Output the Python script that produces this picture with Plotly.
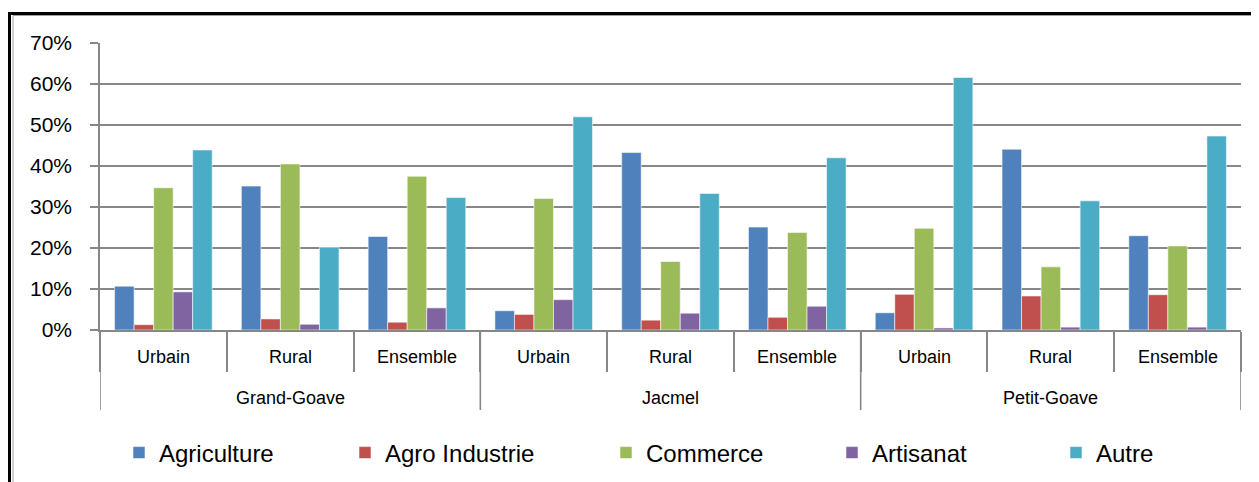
import plotly.graph_objects as go

communes = ["Grand-Goave"] * 3 + ["Jacmel"] * 3 + ["Petit-Goave"] * 3
milieux = ["Urbain", "Rural", "Ensemble"] * 3

series_names = ["Agriculture", "Agro Industrie", "Commerce", "Artisanat", "Autre"]
agriculture = [10.7, 35.1, 22.8, 4.7, 43.3, 25.1, 4.2, 44.1, 23.0]
agro_industrie = [1.3, 2.7, 1.9, 3.8, 2.4, 3.1, 8.7, 8.3, 8.6]
commerce = [34.7, 40.5, 37.5, 32.1, 16.7, 23.8, 24.8, 15.4, 20.5]
artisanat = [9.3, 1.4, 5.4, 7.4, 4.1, 5.8, 0.5, 0.7, 0.7]
autre = [43.9, 20.2, 32.3, 52.0, 33.3, 42.0, 61.6, 31.5, 47.3]

y_ticks = [0, 10, 20, 30, 40, 50, 60, 70]
y_ticktext = [f"{v}%" for v in y_ticks]

colors = ["#4F81BD", "#C0504D", "#9BBB59", "#8064A2", "#4BACC6"]
all_values = [agriculture, agro_industrie, commerce, artisanat, autre]

# unique category keys (commune + milieu)
cat_keys = [f"{c} | {m}" for c, m in zip(communes, milieux)]

# page has an 8px body margin: figure origin sits at screen (8, 8)
OFF = 8
W, H = 1259, 482
ML = 100 - OFF
MR = (W + OFF) - 1241
MT = 43 - OFF
MB = H - (330 - OFF)
PW = W - ML - MR
PH = H - MT - MB

def sx(px):  # screen x -> paper x
    return (px - OFF - ML) / PW

def sy(py):  # screen y -> paper y
    return (H - MB - (py - OFF)) / PH

FONT = "Liberation Sans, Arial, sans-serif"
GRAY = "#878787"

fig = go.Figure()
legend_ids = ["legend", "legend2", "legend3", "legend4", "legend5"]
for name, vals, col, lid in zip(series_names, all_values, colors, legend_ids):
    fig.add_trace(go.Bar(
        x=cat_keys, y=vals, name=name,
        marker=dict(color=col, line=dict(color="rgba(255,255,255,0.55)", width=1)),
        legend=lid,
    ))

square_centers = [139, 365, 626, 852, 1076]
legend_layouts = {}
for lid, cx in zip(legend_ids, square_centers):
    legend_layouts[lid] = dict(
        orientation="h", x=sx(cx - 20), xanchor="left",
        y=sy(453), yanchor="middle",
        font=dict(family=FONT, size=24, color="#000000"),
        bgcolor="rgba(0,0,0,0)", borderwidth=0, tracegroupgap=0,
    )

fig.update_layout(
    width=W, height=H,
    margin=dict(l=ML, r=MR, t=MT, b=MB),
    paper_bgcolor="white", plot_bgcolor="white",
    barmode="group", bargap=0.23, bargroupgap=0,
    showlegend=True,
    font=dict(family=FONT, color="#000000"),
    **legend_layouts,
)

fig.update_yaxes(
    range=[0, 70], tickmode="array", tickvals=y_ticks, ticktext=y_ticktext,
    tickfont=dict(family=FONT, size=21, color="#000000"),
    showgrid=True, gridcolor=GRAY, gridwidth=1.6,
    showline=True, linecolor=GRAY, linewidth=1.6,
    ticks="outside", ticklen=8, tickcolor=GRAY, tickwidth=1.6,
    ticklabelstandoff=14, zeroline=False,
)

n = len(cat_keys)
fig.update_xaxes(
    type="category", range=[-0.5, n - 0.5],
    showticklabels=False,
    showline=True, linecolor=GRAY, linewidth=1.6,
    ticks="outside", ticklen=40, tickcolor=GRAY, tickwidth=1.6,
    tickson="boundaries", showgrid=False,
)

# inner labels (milieu)
for key, m in zip(cat_keys, milieux):
    fig.add_annotation(x=key, y=sy(357), xref="x", yref="paper", text=m,
                       showarrow=False, yanchor="middle",
                       font=dict(family=FONT, size=18, color="#000000"))

# outer labels (commune) and group dividers
groups = []
for i, c in enumerate(communes):
    if not groups or groups[-1][0] != c:
        groups.append([c, i, i])
    else:
        groups[-1][2] = i
bounds = set()
for c, i0, i1 in groups:
    fig.add_annotation(x=(i0 + i1) / 2, y=sy(398), xref="x", yref="paper", text=c,
                       showarrow=False, yanchor="middle",
                       font=dict(family=FONT, size=18, color="#000000"))
    bounds.add(i0 - 0.5)
    bounds.add(i1 + 0.5)
for b in sorted(bounds):
    fig.add_shape(type="line", xref="x", yref="paper", x0=b, x1=b,
                  y0=sy(330), y1=sy(410), line=dict(color=GRAY, width=1.6))

# outer frame of the chart
fig.add_shape(type="rect", xref="paper", yref="paper",
              x0=sx(9.5), x1=sx(1275), y0=sy(500), y1=sy(13.5),
              line=dict(color="#000000", width=3), layer="above")
fig.add_shape(type="rect", xref="paper", yref="paper",
              x0=sx(13), x1=sx(1272), y0=sy(500), y1=sy(15.5),
              line=dict(color="#a0a0a0", width=1), layer="above")

fig.write_html("out.html")
